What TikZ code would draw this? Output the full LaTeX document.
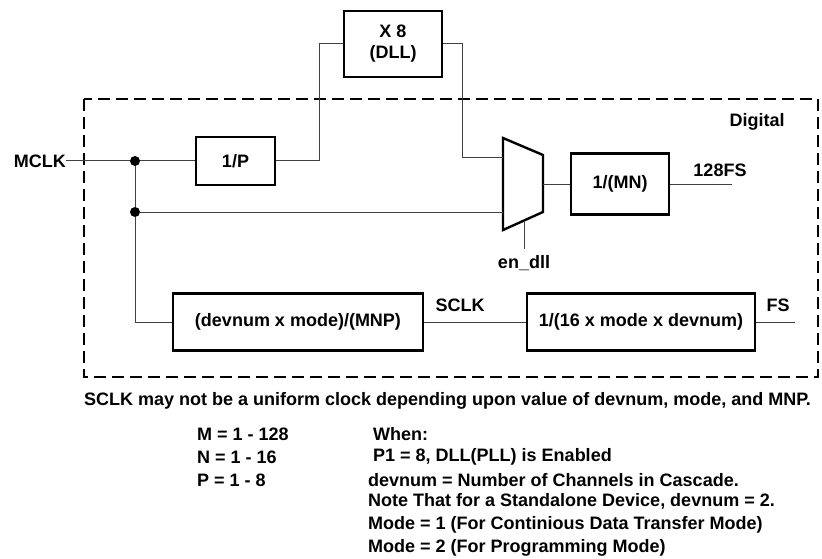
\documentclass[tikz,border=0pt]{standalone}
\usepackage{fontspec}
\setmainfont{Liberation Sans}
\usetikzlibrary{calc}

\begin{document}
\begin{tikzpicture}[
    x=1pt, y=-1pt,
    every node/.style={font=\bfseries\fontsize{18}{21}\selectfont},
    blk/.style={draw, line width=2.4pt, inner sep=0pt},
    wire/.style={draw=black!75, line width=1pt},
    jdot/.style={circle, fill, inner sep=0pt, minimum size=10pt},
    lbl/.style={inner sep=0pt},
    note/.style={inner sep=0pt, anchor=west}
]
    \useasboundingbox (0,0) rectangle (822,559);

    % digital region
    \draw[line width=2pt, dash pattern=on 12pt off 6pt] (84,99) rectangle (818,377);
    \node[lbl] (digital) at (757,122) {Digital};

    % blocks
    \node[blk, minimum width=98pt, minimum height=66pt, align=center] (dll) at (393,44) {X 8\\(DLL)};
    \node[blk, minimum width=79pt, minimum height=48pt] (divp) at (235.5,161) {1/P};
    \node[blk, minimum width=98pt, minimum height=61pt] (divmn) at (620,184) {1/(MN)};
    \node[blk, minimum width=250pt, minimum height=57pt] (sclkdiv) at (298,322) {(devnum x mode)/(MNP)};
    \node[blk, minimum width=228pt, minimum height=57pt] (fsdiv) at (641,322) {1/(16 x mode x devnum)};

    % mux
    \coordinate (m1) at (503,138);
    \coordinate (m2) at (543,155);
    \coordinate (m3) at (543,212);
    \coordinate (m4) at (503,230);
    \draw[line width=2.4pt, line join=miter] (m1) -- (m2) -- (m3) -- (m4) -- cycle;
    \coordinate (muxa) at (503,158);
    \coordinate (muxb) at (503,212);
    \coordinate (muxo) at (543,184);
    \coordinate (muxs) at (524,220.5);

    % inputs and outputs
    \node[lbl, anchor=east] (mclk) at (66,161) {MCLK};
    \node[jdot] (j1) at (135,161) {};
    \node[jdot] (j2) at (135,212) {};
    \node[lbl] (fs128) at (720,170) {128FS};
    \coordinate (fs128end) at (732,184);
    \node[lbl] (sclk) at (460,305) {SCLK};
    \node[lbl] (fs) at (778,305) {FS};
    \coordinate (fsend) at (795,322);
    \node[lbl] (endll) at (524,263) {en\_dll};
    \coordinate (endllend) at (524,249);

    % connectors
    \path[wire] (mclk) -- (j1) -- (divp);
    \path[wire] (divp.east) -| (319,44) -- (dll.west);
    \path[wire] (dll.east) -| (462,158) -- (muxa);
    \path[wire] (j1) -- (j2) -- (muxb);
    \path[wire] (j2) |- (sclkdiv.west);
    \path[wire] (muxo) -- (divmn.west);
    \path[wire] (divmn.east) -- (fs128end);
    \path[wire] (muxs) -- (endllend);
    \path[wire] (sclkdiv.east) -- (fsdiv.west);
    \path[wire] (fsdiv.east) -- (fsend);

    % notes
    \node[note] (remark) at (84,401) {SCLK may not be a uniform clock depending upon value of devnum, mode, and MNP.};
    \node[note] (rm) at (197,434) {M = 1 - 128};
    \node[note] (rn) at (197,457) {N = 1 - 16};
    \node[note] (rp) at (197,480) {P = 1 - 8};
    \node[note] (when) at (373,434) {When:};
    \node[note] (p1) at (373,457) {P1 = 8, DLL(PLL) is Enabled};
    \node[note] (dev) at (368,480) {devnum = Number of Channels in Cascade.};
    \node[note] (std) at (368,501) {Note That for a Standalone Device, devnum = 2.};
    \node[note] (mode1) at (368,525) {Mode = 1 (For Continious Data Transfer Mode)};
    \node[note] (mode2) at (368,548) {Mode = 2 (For Programming Mode)};
\end{tikzpicture}
\end{document}
